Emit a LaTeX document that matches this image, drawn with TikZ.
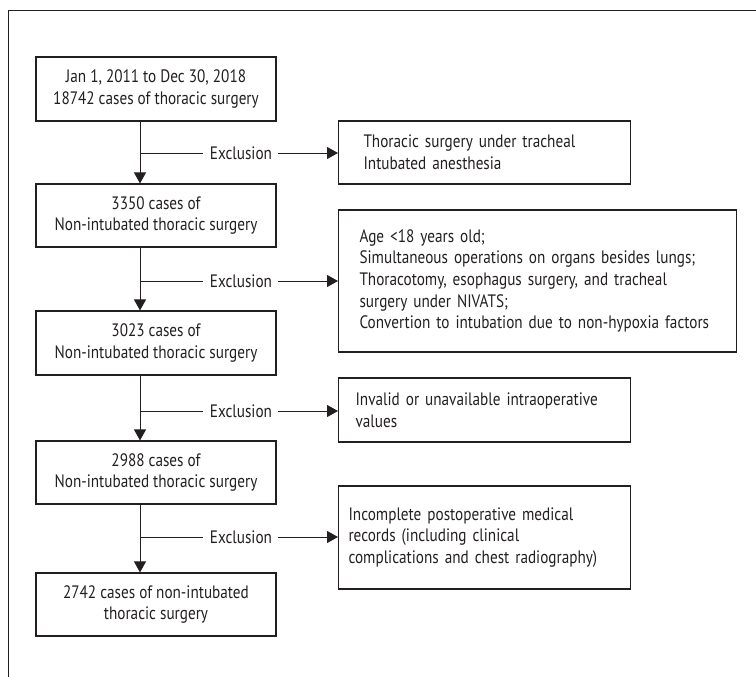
\documentclass[tikz,border=0pt]{standalone}
\usepackage{fontspec}
\setmainfont{PT Sans}[FakeStretch=0.845]
\usetikzlibrary{arrows.meta}
\definecolor{ink}{HTML}{231F20}
\begin{document}
\begin{tikzpicture}[x=1pt,y=-1pt,
  every node/.style={font=\fontsize{18}{21.7}\selectfont, text=ink},
  leftbox/.style={draw=ink, line width=1.1pt, minimum width=240pt, align=center, inner sep=0pt},
  rightbox/.style={draw=ink, line width=1.1pt, anchor=west, align=left, inner ysep=0pt},
  flow/.style={draw=ink, line width=1pt},
  arr/.style={flow, -{Triangle[length=11pt,width=12pt]}},
  exlabel/.style={inner sep=0pt}
]
\useasboundingbox (0,0) rectangle (756,677);
% partial frame
\coordinate (fa) at (8,677);
\coordinate (fb) at (8,11);
\coordinate (fc) at (756,11);
\draw[ink, line width=1pt] (fa) -- (fb) -- (fc);

% left column
\node[leftbox, minimum height=64pt] (b1) at (156,89) {Jan 1, 2011 to Dec 30, 2018\\18742 cases of thoracic surgery};
\node[leftbox, minimum height=63pt] (b2) at (156,215.5) {3350 cases of\\Non-intubated thoracic surgery};
\node[leftbox, minimum height=64pt] (b3) at (156,343) {3023 cases of\\Non-intubated thoracic surgery};
\node[leftbox, minimum height=63pt] (b4) at (156,472.5) {2988 cases of\\Non-intubated thoracic surgery};
\node[leftbox, minimum height=63pt] (b5) at (156,604.5) {2742 cases of non-intubated\\thoracic surgery};

% right column
\node[rightbox, minimum height=63pt, inner xsep=25pt, text width=242pt] (r1) at (338,152.5)
  {Thoracic surgery under tracheal\\Intubated anesthesia};
\node[rightbox, minimum height=142pt, inner xsep=21pt, text width=356pt] (r2) at (338,281)
  {Age <18 years old;\\Simultaneous operations on organs besides lungs;\\Thoracotomy, esophagus surgery, and tracheal\\surgery under NIVATS;\\Convertion to intubation due to non-hypoxia factors};
\node[rightbox, minimum height=64pt, inner xsep=17pt, text width=258pt] (r3) at (338,410)
  {Invalid or unavailable intraoperative\\values};
\node[rightbox, minimum height=103pt, inner xsep=10pt, text width=272pt] (r4) at (338,537.5)
  {Incomplete postoperative medical\\records (including clinical\\complications and chest radiography)};

% column of the down arrows
\coordinate (col) at (140,0);

% exclusion branches
\coordinate (j1) at (140,153);
\coordinate (j2) at (140,281);
\coordinate (j3) at (140,411);
\coordinate (j4) at (140,537);
\node[exlabel] (x1) at (241,153) {Exclusion};
\node[exlabel] (x2) at (241,281) {Exclusion};
\node[exlabel] (x3) at (241,411) {Exclusion};
\node[exlabel] (x4) at (241,537) {Exclusion};

\foreach \i/\r in {1/r1,2/r2,3/r3,4/r4}{
  \draw[flow] (j\i) -- ([xshift=-7pt]x\i.west);
  \draw[arr] ([xshift=6pt]x\i.east) -- (j\i -| \r.west);
}

% down arrows
\draw[arr] (b1.south -| col) -- (b2.north -| col);
\draw[arr] (b2.south -| col) -- (b3.north -| col);
\draw[arr] (b3.south -| col) -- (b4.north -| col);
\draw[arr] (b4.south -| col) -- (b5.north -| col);
\end{tikzpicture}
\end{document}
